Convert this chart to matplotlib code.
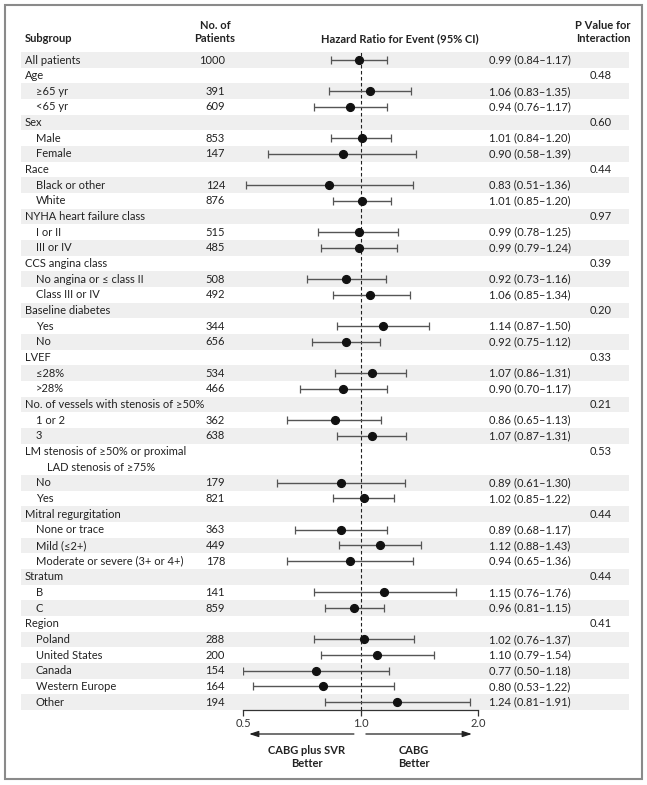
import matplotlib
matplotlib.use("Agg")
import matplotlib.pyplot as plt
from matplotlib.patches import Rectangle
from matplotlib.transforms import blended_transform_factory

plt.rcParams['font.family'] = ['Lato', 'DejaVu Sans']

# ---------------- data ----------------
labels = [
    "All patients",
    "Age", "\u226565 yr", "<65 yr",
    "Sex", "Male", "Female",
    "Race", "Black or other", "White",
    "NYHA heart failure class", "I or II", "III or IV",
    "CCS angina class", "No angina or \u2264 class II", "Class III or IV",
    "Baseline diabetes", "Yes", "No",
    "LVEF", "\u226428%", ">28%",
    "No. of vessels with stenosis of \u226550%", "1 or 2", "3",
    "LM stenosis of \u226550% or proximal\nLAD stenosis of \u226575%", "No", "Yes",
    "Mitral regurgitation", "None or trace", "Mild (\u22642+)", "Moderate or severe (3+ or 4+)",
    "Stratum", "B", "C",
    "Region", "Poland", "United States", "Canada", "Western Europe", "Other",
]
n_patients = [
    1000,
    None, 391, 609,
    None, 853, 147,
    None, 124, 876,
    None, 515, 485,
    None, 508, 492,
    None, 344, 656,
    None, 534, 466,
    None, 362, 638,
    None, 179, 821,
    None, 363, 449, 178,
    None, 141, 859,
    None, 288, 200, 154, 164, 194,
]
hazard_ratio = [
    0.99,
    None, 1.06, 0.94,
    None, 1.01, 0.90,
    None, 0.83, 1.01,
    None, 0.99, 0.99,
    None, 0.92, 1.06,
    None, 1.14, 0.92,
    None, 1.07, 0.90,
    None, 0.86, 1.07,
    None, 0.89, 1.02,
    None, 0.89, 1.12, 0.94,
    None, 1.15, 0.96,
    None, 1.02, 1.10, 0.77, 0.80, 1.24,
]
ci_low = [
    0.84,
    None, 0.83, 0.76,
    None, 0.84, 0.58,
    None, 0.51, 0.85,
    None, 0.78, 0.79,
    None, 0.73, 0.85,
    None, 0.87, 0.75,
    None, 0.86, 0.70,
    None, 0.65, 0.87,
    None, 0.61, 0.85,
    None, 0.68, 0.88, 0.65,
    None, 0.76, 0.81,
    None, 0.76, 0.79, 0.50, 0.53, 0.81,
]
ci_high = [
    1.17,
    None, 1.35, 1.17,
    None, 1.20, 1.39,
    None, 1.36, 1.20,
    None, 1.25, 1.24,
    None, 1.16, 1.34,
    None, 1.50, 1.12,
    None, 1.31, 1.17,
    None, 1.13, 1.31,
    None, 1.30, 1.22,
    None, 1.17, 1.43, 1.36,
    None, 1.76, 1.15,
    None, 1.37, 1.54, 1.18, 1.22, 1.91,
]
p_interaction = [
    None,
    "0.48", None, None,
    "0.60", None, None,
    "0.44", None, None,
    "0.97", None, None,
    "0.39", None, None,
    "0.20", None, None,
    "0.33", None, None,
    "0.21", None, None,
    "0.53", None, None,
    "0.44", None, None, None,
    "0.44", None, None,
    "0.41", None, None, None, None, None,
]
x_ticks = [0.5, 1.0, 2.0]
x_tick_labels = ["0.5", "1.0", "2.0"]

# ---------------- layout ----------------
W, H = 647, 785
fig = plt.figure(figsize=(W / 100, H / 100), dpi=100)

# row positions (line index); multi-line labels take several lines
pos = []
p = 0
for lab in labels:
    pos.append(p)
    p += lab.count("\n") + 1
last = pos[-1]

first_px, last_px = 60, 702
row_px = (last_px - first_px) / last
top_px, axis_px = 50, 710
ax = fig.add_axes([243 / W, 1 - axis_px / H, (478 - 243) / W, (axis_px - top_px) / H])
ax.set_xscale("log")
ax.set_xlim(0.5, 2.0)
ax.set_ylim(last + (axis_px - last_px) / row_px, -(first_px - top_px) / row_px)
ax.set_facecolor("none")

T = blended_transform_factory(fig.transFigure, ax.transData)

# stripes
for i, lab in enumerate(labels):
    if i % 2 == 0:
        nl = lab.count("\n") + 1
        ax.add_patch(Rectangle((21 / W, pos[i] - 0.5), (629 - 21) / W, nl,
                               transform=T, facecolor="#efefef", edgecolor="none",
                               zorder=0, clip_on=False))

# dashed reference line
ax.axvline(1.0, color="#222222", ls=(0, (3.2, 2.2)), lw=0.8, zorder=1)

# error bars
for i in range(len(labels)):
    if hazard_ratio[i] is None:
        continue
    h, lo, hi = hazard_ratio[i], ci_low[i], ci_high[i]
    ax.errorbar([h], [pos[i]], xerr=[[h - lo], [hi - h]], fmt="o",
                color="#111111", ecolor="#555555", elinewidth=1.0,
                capsize=3.2, capthick=0.9, markersize=5.6, zorder=3)

# axis styling
for s in ["top", "left", "right"]:
    ax.spines[s].set_visible(False)
ax.spines["bottom"].set_color("#333333")
ax.spines["bottom"].set_linewidth(0.9)
ax.set_yticks([])
ax.set_xticks(x_ticks)
ax.set_xticklabels(x_tick_labels)
ax.xaxis.set_minor_locator(matplotlib.ticker.NullLocator())
ax.tick_params(axis="x", direction="out", length=4, width=0.9, color="#333333",
               labelsize=8, labelcolor="#333333", pad=2)

txt_kw = dict(fontsize=8, color="#222222", va="center", transform=T)

# row texts
for i, lab in enumerate(labels):
    parts = lab.split("\n")
    indent = 36 if (n_patients[i] is not None and i > 0) else 25
    ax.text(indent / W, pos[i], parts[0], ha="left", **txt_kw)
    for k, extra in enumerate(parts[1:], start=1):
        ax.text(47 / W, pos[i] + k, extra, ha="left", **txt_kw)
    if n_patients[i] is not None:
        ax.text(225 / W, pos[i], str(n_patients[i]), ha="right", **txt_kw)
    if hazard_ratio[i] is not None:
        s = f"{hazard_ratio[i]:.2f} ({ci_low[i]:.2f}\u2013{ci_high[i]:.2f})"
        ax.text(489 / W, pos[i], s, ha="left", **txt_kw)
    if p_interaction[i] is not None:
        ax.text(612 / W, pos[i], p_interaction[i], ha="right", **txt_kw)

# headers
hdr_kw = dict(fontsize=8, fontweight="bold", color="#222222", transform=fig.transFigure)
fig.text(25 / W, 1 - 39 / H, "Subgroup", ha="left", va="center", **hdr_kw)
fig.text(215 / W, 1 - 32 / H, "No. of\nPatients", ha="center", va="center",
         linespacing=1.25, **hdr_kw)
fig.text(400 / W, 1 - 39 / H, "Hazard Ratio for Event (95% CI)", ha="center",
         va="center", **hdr_kw)
fig.text(603 / W, 1 - 32 / H, "P Value for\nInteraction", ha="center", va="center",
         linespacing=1.25, **hdr_kw)

# arrows and favour labels
arrow_y = 1 - 734 / H
ax.annotate("", xy=(0.026, arrow_y), xytext=(0.472, arrow_y),
            xycoords=("axes fraction", "figure fraction"),
            textcoords=("axes fraction", "figure fraction"),
            arrowprops=dict(arrowstyle="-|>,head_length=0.55,head_width=0.18",
                            color="#222222", lw=0.9, shrinkA=0, shrinkB=0))
ax.annotate("", xy=(0.974, arrow_y), xytext=(0.523, arrow_y),
            xycoords=("axes fraction", "figure fraction"),
            textcoords=("axes fraction", "figure fraction"),
            arrowprops=dict(arrowstyle="-|>,head_length=0.55,head_width=0.18",
                            color="#222222", lw=0.9, shrinkA=0, shrinkB=0))
ax.text(0.272, 1 - 757 / H, "CABG plus SVR\nBetter", ha="center", va="center",
        fontsize=8, fontweight="bold", color="#222222", linespacing=1.15,
        transform=blended_transform_factory(ax.transAxes, fig.transFigure))
ax.text(0.728, 1 - 757 / H, "CABG\nBetter", ha="center", va="center",
        fontsize=8, fontweight="bold", color="#222222", linespacing=1.15,
        transform=blended_transform_factory(ax.transAxes, fig.transFigure))

# outer frame
fig.patches.append(Rectangle((5 / W, 1 - 779 / H), (642 - 5) / W, (779 - 5) / H,
                             transform=fig.transFigure, facecolor="none",
                             edgecolor="#8a8a8a", lw=1.5, zorder=0))

fig.savefig("out.png", dpi=100)
